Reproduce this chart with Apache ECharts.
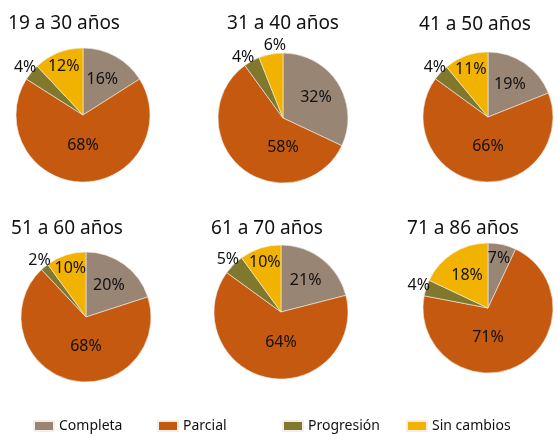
<!DOCTYPE html>
<html>
<head>
<meta charset="utf-8">
<script src="https://cdn.jsdelivr.net/npm/echarts@6/dist/echarts.min.js"></script>
<style>
    html, body { margin: 0; padding: 0; background: #fff; }
    #main { width: 558px; height: 437px; }
</style>
</head>
<body>
<div id="main"></div>
<script>
    const categories = ['Completa', 'Parcial', 'Progresión', 'Sin cambios'];
    const groups = ['19 a 30 años', '31 a 40 años', '41 a 50 años', '51 a 60 años', '61 a 70 años', '71 a 86 años'];
    const completa = [16, 32, 19, 20, 21, 7];
    const parcial = [68, 58, 66, 68, 64, 71];
    const progresion = [4, 4, 4, 2, 5, 4];
    const sinCambios = [12, 6, 11, 10, 10, 18];

    const colors = ['#988574', '#c5590f', '#80782f', '#f1b300'];
    const font = '"Noto Sans", sans-serif';

    // pie centre / radius and title centre for each panel
    const layout = [
        {cx: 83, cy: 115, r: 67, tx: 64, ty: 14},
        {cx: 283, cy: 118, r: 65, tx: 283, ty: 14},
        {cx: 488, cy: 117, r: 65, tx: 475, ty: 15},
        {cx: 86, cy: 317, r: 65, tx: 67, ty: 219},
        {cx: 281, cy: 312, r: 67, tx: 267, ty: 219},
        {cx: 488, cy: 308, r: 65, tx: 463, ty: 219}
    ];
    const legendLeft = [33, 157, 282, 406];

    // how far out the label sits, as a share of the radius
    function labelFrac(v) {
        if (v >= 50) return 0.45;
        if (v >= 15) return 0.6;
        if (v >= 7) return 0.78;
        return 1.12;
    }

    const myChart = echarts.init(document.getElementById('main'));

    const titles = [];
    const series = [];
    for (let i = 0; i < groups.length; i++) {
        const L = layout[i];
        const vals = [completa[i], parcial[i], progresion[i], sinCambios[i]];
        const total = vals.reduce((a, b) => a + b, 0);

        // mid angle of every slice (clockwise from 12 o'clock)
        let acc = 0;
        const mids = vals.map(v => {
            const m = (acc + v / 2) / total * Math.PI * 2;
            acc += v;
            return m;
        });
        // where we want the labels: angle + radius
        const want = vals.map((v, k) => ({
            a: v >= 50 ? Math.PI : mids[k],   // big slice label sits below the centre
            d: labelFrac(v) * L.r
        }));
        // spread neighbouring outside labels so they don't collide
        for (let k = 0; k < vals.length - 1; k++) {
            const p = want[k], q = want[k + 1];
            if (p.d > L.r && q.d > L.r) {
                const minGap = 34 / p.d;
                if (q.a - p.a < minGap) {
                    const c = (p.a + q.a) / 2;
                    p.a = c - minGap / 2;
                    q.a = c + minGap / 2;
                }
            }
        }

        const data = vals.map((v, k) => {
            // ECharts puts inside labels at r/2 + 3 along the mid angle
            const base = L.r / 2 + 3;
            const ox = Math.sin(want[k].a) * want[k].d - Math.sin(mids[k]) * base;
            const oy = -Math.cos(want[k].a) * want[k].d + Math.cos(mids[k]) * base;
            return {
                name: categories[k],
                value: v,
                label: {offset: [ox, oy]}
            };
        });
        titles.push({
            text: groups[i],
            left: L.tx,
            top: L.ty,
            textAlign: 'center',
            padding: 0,
            textStyle: {fontFamily: font, fontSize: 19, fontWeight: 'normal', color: '#111'}
        });
        series.push({
            name: groups[i],
            type: 'pie',
            center: [L.cx, L.cy],
            radius: [0, L.r],
            startAngle: 90,
            clockwise: true,
            avoidLabelOverlap: false,
            itemStyle: {borderColor: '#f4eee6', borderWidth: 0.6},
            label: {
                show: true,
                position: 'inside',
                formatter: '{c}%',
                fontFamily: font,
                fontSize: 16,
                color: '#111'
            },
            labelLine: {show: false},
            labelLayout: {hideOverlap: false},
            emphasis: {disabled: true},
            data: data
        });
    }

    // one legend per category so the items sit on an even grid
    const legends = categories.map((c, k) => ({
        data: [c],
        left: legendLeft[k],
        top: 419,
        itemWidth: 20,
        itemHeight: 10,
        itemGap: 6,
        padding: 0,
        icon: 'rect',
        selectedMode: false,
        textStyle: {fontFamily: font, fontSize: 14, color: '#111'}
    }));

    const option = {
        color: colors,
        animation: false,
        title: titles,
        legend: legends,
        series: series
    };
    myChart.setOption(option);
</script>
</body>
</html>
